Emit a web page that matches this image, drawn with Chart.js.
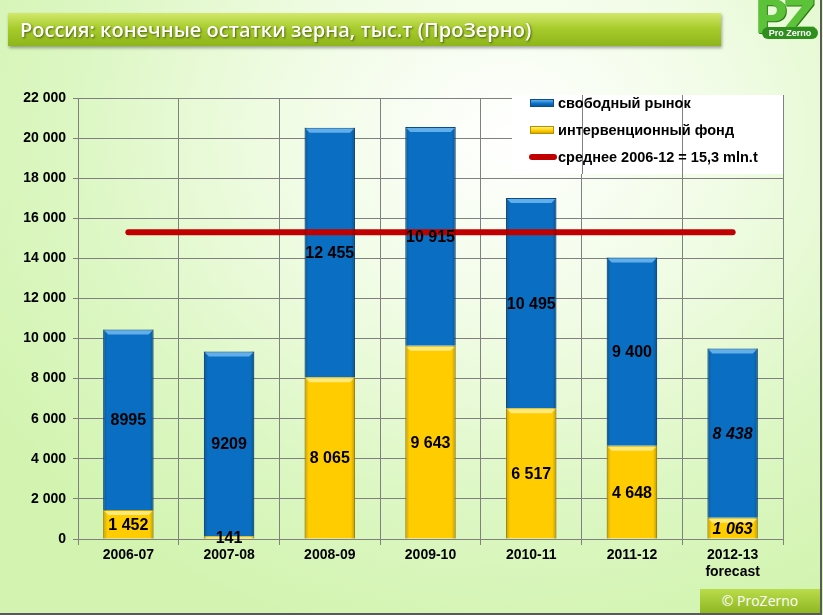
<!DOCTYPE html>
<html>
<head>
<meta charset="utf-8">
<script src="https://cdn.jsdelivr.net/npm/chart.js@4.4.1/dist/chart.umd.min.js"></script>
<style>
  html, body { margin: 0; padding: 0; }
  body {
    width: 823px; height: 615px; position: relative; overflow: hidden;
    background: radial-gradient(ellipse 75% 85% at 62% 22%, #ffffff 0%, #f1fce6 35%, #ddf7c4 70%, #d2f4b0 100%);
    font-family: "Liberation Sans", Arial, sans-serif;
  }
  #wrap { position: absolute; left: 0; top: 0; width: 823px; height: 615px; }
  .titlebar {
    position: absolute; left: 8px; top: 13px; width: 713px; height: 33px;
    background: linear-gradient(#d2e86a, #a8cc2c 45%, #8db51a);
    box-shadow: 1px 2px 3px rgba(0,0,0,0.35);
    color: #fff; font-family: "Open Sans", sans-serif; font-weight: 600;
    font-size: 20px; line-height: 33px; padding-left: 12px; box-sizing: border-box;
    text-shadow: 1px 1px 2px rgba(40,60,0,0.7); letter-spacing: 0px;
  }
  .logo { position: absolute; left: 752px; top: 0px; width: 66px; height: 42px; }
  .logo .big { position: absolute; left: 2px; top: -10px; font: bold 46px "DejaVu Sans", sans-serif; color: #5cc23a; letter-spacing: -5px; text-shadow: 1px 1px 0 #2c7a14; }
  .logo .pill { position: absolute; left: 10px; top: 27px; width: 56px; height: 12px; background: #2f8f1e; border-radius: 6px; color: #fff; font: bold 9px "Liberation Sans", sans-serif; line-height: 12px; text-align: center; }
  .copy {
    position: absolute; left: 700px; top: 589px; width: 120px; height: 24px;
    background: linear-gradient(#b9dc4a, #8fb823); color: #fff;
    font: 14px "Open Sans", sans-serif; line-height: 24px; text-align: center;
  }
  .frame { position: absolute; left: 0; top: 0; width: 820px; height: 613px; border-right: 2px solid #5a5a5a; border-bottom: 2px solid #5a5a5a; pointer-events: none; }
  .legend { position: absolute; left: 528px; top: 94px; font: bold 14.5px "Liberation Sans", Arial, sans-serif; color: #000; }
  .legend .row { position: relative; height: 27px; line-height: 18px; padding-left: 30px; white-space: nowrap; }
  .legend .sw { position: absolute; left: 2px; top: 5px; width: 24px; height: 8px; }
  .legend .blue { background: linear-gradient(#5fb0ee, #0b6fc4 60%, #0a5aa0); border: 1px solid #0a4f8c; box-sizing: border-box; }
  .legend .yel { background: linear-gradient(#fff07a, #ffcc00 60%, #d9a900); border: 1px solid #b89000; box-sizing: border-box; }
  .legend .red { left: 1px; top: 6px; width: 28px; height: 6px; background: #c00000; border-radius: 3px; }
</style>
</head>
<body>
<div id="wrap"><canvas id="grafico" width="823" height="615"></canvas></div>
<div class="titlebar">Россия: конечные остатки зерна, тыс.т (ПроЗерно)</div>
<div class="logo"><div class="big">PZ</div><div class="pill">Pro Zerno</div></div>
<div class="legend">
  <div class="row"><span class="sw blue"></span>свободный рынок</div>
  <div class="row"><span class="sw yel"></span>интервенционный фонд</div>
  <div class="row"><span class="sw red"></span>среднее 2006-12 = 15,3 mln.t</div>
</div>
<div class="copy">© ProZerno</div>
<div class="frame"></div>
<script>
// dados do gráfico
const anos = ['2006-07', '2007-08', '2008-09', '2009-10', '2010-11', '2011-12', ['2012-13', 'forecast']];
const fundo = [1452, 141, 8065, 9643, 6517, 4648, 1063];        // интервенционный фонд
const mercado = [8995, 9209, 12455, 10915, 10495, 9400, 8438];  // свободный рынок
const media = [15300, 15300, 15300, 15300, 15300, 15300, 15300]; // среднее 2006-12
const rotulosFundo = ['1 452', '141', '8 065', '9 643', '6 517', '4 648', '1 063'];
const rotulosMercado = ['8995', '9209', '12 455', '10 915', '10 495', '9 400', '8 438'];

const FONTE = '"Liberation Sans", Arial, sans-serif';

// caixa branca da legenda (sob as linhas verticais)
const caixaLegenda = {
  id: 'caixaLegenda',
  beforeDatasetsDraw(chart) {
    const { ctx, chartArea, scales } = chart;
    const x0 = 512, y0 = 95, y1 = 174;
    ctx.save();
    ctx.fillStyle = '#ffffff';
    ctx.fillRect(x0, y0, chartArea.right - x0 + 1, y1 - y0);
    ctx.strokeStyle = '#808080';
    ctx.lineWidth = 1;
    const n = anos.length;
    const passo = (chartArea.right - chartArea.left) / n;
    for (let i = 0; i <= n; i++) {
      const x = Math.round(scales.x.getPixelForValue(0) - passo / 2 + i * passo) + 0.5;
      if (x >= x0 && x <= chartArea.right + 1) {
        ctx.beginPath();
        ctx.moveTo(x, y0);
        ctx.lineTo(x, y1);
        ctx.stroke();
      }
    }
    ctx.restore();
  }
};

// efeito 3D simples nas barras (bordas escuras e chanfro claro no topo)
const relevo = {
  id: 'relevo',
  afterDatasetsDraw(chart) {
    const { ctx } = chart;
    ctx.save();
    [[0, '255,240,150'], [1, '120,190,245']].forEach(([ds, claro]) => {
      chart.getDatasetMeta(ds).data.forEach(bar => {
        const w = bar.width, esq = bar.x - w / 2, topo = Math.min(bar.y, bar.base), alt = Math.abs(bar.base - bar.y);
        if (alt < 2) return;
        const g = ctx.createLinearGradient(esq, 0, esq + w, 0);
        g.addColorStop(0, 'rgba(0,0,0,0.22)');
        g.addColorStop(0.08, 'rgba(0,0,0,0)');
        g.addColorStop(0.92, 'rgba(0,0,0,0)');
        g.addColorStop(1, 'rgba(0,0,0,0.25)');
        ctx.fillStyle = g;
        ctx.fillRect(esq, topo, w, alt);
        const b = Math.min(4, alt / 2);
        ctx.fillStyle = 'rgba(' + claro + ',0.8)';
        ctx.beginPath();
        ctx.moveTo(esq + 1, topo + 1);
        ctx.lineTo(esq + w - 1, topo + 1);
        ctx.lineTo(esq + w - 1 - b, topo + 1 + b);
        ctx.lineTo(esq + 1 + b, topo + 1 + b);
        ctx.closePath();
        ctx.fill();
      });
    });
    ctx.restore();
  }
};

// rótulos dentro das barras
const rotulos = {
  id: 'rotulos',
  afterDatasetsDraw(chart) {
    const { ctx } = chart;
    ctx.save();
    ctx.textAlign = 'center';
    ctx.textBaseline = 'middle';
    ctx.fillStyle = '#000';
    [[0, rotulosFundo], [1, rotulosMercado]].forEach(([ds, textos]) => {
      chart.getDatasetMeta(ds).data.forEach((bar, i) => {
        const italico = i === anos.length - 1 ? 'italic ' : '';
        ctx.font = italico + 'bold 16px ' + FONTE;
        ctx.fillText(textos[i], bar.x, (bar.y + bar.base) / 2 + 1);
      });
    });
    ctx.restore();
  }
};

const separar = v => String(v).replace(/\B(?=(\d{3})+(?!\d))/g, ' ');

new Chart(document.getElementById('grafico'), {
  data: {
    labels: anos,
    datasets: [
      {
        type: 'bar',
        label: 'интервенционный фонд',
        data: fundo,
        backgroundColor: '#ffcc00',
        borderColor: '#c9a000',
        borderWidth: 1,
        stack: 'zerno',
        barPercentage: 0.5,
        categoryPercentage: 1,
        order: 1
      },
      {
        type: 'bar',
        label: 'свободный рынок',
        data: mercado,
        backgroundColor: '#0a6fc2',
        borderColor: '#0a4f8c',
        borderWidth: 1,
        stack: 'zerno',
        barPercentage: 0.5,
        categoryPercentage: 1,
        order: 1
      },
      {
        type: 'line',
        label: 'среднее 2006-12 = 15,3 mln.t',
        data: media,
        borderColor: '#c00000',
        borderWidth: 6,
        borderCapStyle: 'round',
        pointRadius: 0,
        stack: 'media',
        order: 0
      }
    ]
  },
  options: {
    responsive: false,
    animation: false,
    layout: { padding: { left: 0, right: 40, top: 98, bottom: 0 } },
    plugins: {
      legend: { display: false },
      tooltip: { enabled: false }
    },
    scales: {
      x: {
        stacked: true,
        offset: true,
        grid: { offset: true, color: '#808080', tickLength: 6 },
        border: { color: '#808080' },
        ticks: { color: '#000', font: { family: FONTE, size: 14, weight: 'bold' }, padding: 2, maxRotation: 0 },
        afterFit(scale) { scale.height = 76; }
      },
      y: {
        stacked: true,
        min: 0,
        max: 22000,
        grid: { color: '#808080', tickLength: 5 },
        border: { color: '#808080' },
        ticks: {
          stepSize: 2000,
          color: '#000',
          padding: 7,
          font: { family: FONTE, size: 14, weight: 'bold' },
          callback: v => separar(v)
        },
        afterFit(scale) { scale.width = 78; }
      }
    }
  },
  plugins: [caixaLegenda, relevo, rotulos]
});
</script>
</body>
</html>
